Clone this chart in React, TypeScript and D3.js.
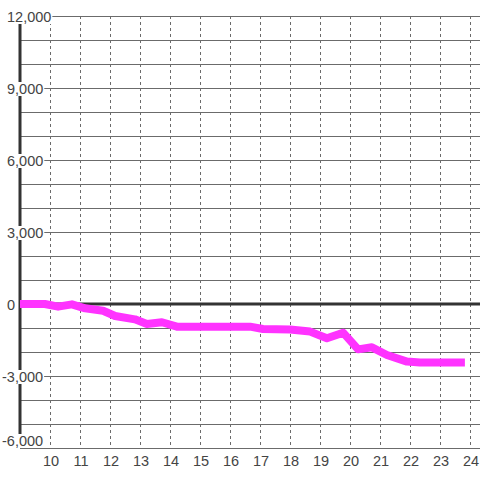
import React from "react";
import * as d3 from "d3";

const hours = [9.0, 9.83, 10.27, 10.73, 11.17, 11.77, 12.17, 12.83, 13.23, 13.73, 14.23, 15.0, 16.0, 16.67, 17.1, 18.0, 18.67, 19.23, 19.77, 20.27, 20.73, 21.23, 21.9, 22.33, 23.0, 23.83];
const values = [0, 0, -110, -15, -180, -280, -500, -640, -830, -760, -945, -945, -945, -945, -1040, -1060, -1150, -1430, -1195, -1890, -1805, -2125, -2400, -2440, -2440, -2440];
const xTicks = [10, 11, 12, 13, 14, 15, 16, 17, 18, 19, 20, 21, 22, 23, 24];
const yLabelTicks = [12000, 9000, 6000, 3000, 0, -3000, -6000];
const yGridTicks = d3.range(-6000, 12001, 1000);

const W = 480, H = 480;
const left = 20, right = 480, top = 16, bottom = 448;

export default function App() {
  const x = d3.scaleLinear().domain([9, 24]).range([left, left + 15 * 30]);
  const y = d3.scaleLinear().domain([-6000, 12000]).range([bottom, top]);
  const line = d3
    .line<number>()
    .x((_, i) => x(hours[i]))
    .y((d) => y(d))
    .curve(d3.curveLinear);
  const fmt = d3.format(",");
  const font = "'Liberation Sans', Arial, sans-serif";
  const fs = 14.5;
  const dw = fs * 0.556, cw = fs * 0.278, mw = fs * 0.333;
  return (
    <svg
      width={W}
      height={H}
      style={{ position: "absolute", left: 0, top: 0, background: "#fff" }}
    >
      <rect x={0} y={0} width={W} height={H} fill="#fff" />
      {yGridTicks.map((t) => (
        <line key={"h" + t} x1={left} x2={right} y1={y(t)} y2={y(t)} stroke="#6b6b6b" strokeWidth={1} shapeRendering="crispEdges" />
      ))}
      {xTicks.map((t) => (
        <line key={"v" + t} x1={x(t)} x2={x(t)} y1={top} y2={bottom} stroke="#6b6b6b" strokeWidth={1} strokeDasharray="3,3" shapeRendering="crispEdges" />
      ))}
      <line x1={left} x2={right} y1={y(0)} y2={y(0)} stroke="#333" strokeWidth={3} />
      <line x1={left} x2={left} y1={top} y2={bottom} stroke="#333" strokeWidth={3} />
      <path d={line(values) || ""} fill="none" stroke="#ff33ff" strokeWidth={8} strokeLinejoin="round" strokeLinecap="butt" />
      {yLabelTicks.map((t) => {
        const label = fmt(t).replace("−", "-");
        const tx = t < 0 ? 2 : 7;
        const digits = label.replace(/[^0-9]/g, "").length;
        const w = digits * dw + (label.includes(",") ? cw : 0) + (t < 0 ? mw : 0);
        const cy = Math.min(y(t) + 1, bottom - 7);
        return (
          <g key={"yl" + t}>
            <rect x={tx - 1} y={cy - 7} width={w + 2} height={14} fill="#fff" />
            <text x={tx} y={cy} dy="0.35em" fontSize={fs} fontFamily={font} fill="#444">
              {label}
            </text>
          </g>
        );
      })}
      {xTicks.map((t) => (
        <text key={"xl" + t} x={x(t) + 1} y={461} dy="0.35em" textAnchor="middle" fontSize={fs} fontFamily={font} fill="#444">
          {t}
        </text>
      ))}
    </svg>
  );
}
